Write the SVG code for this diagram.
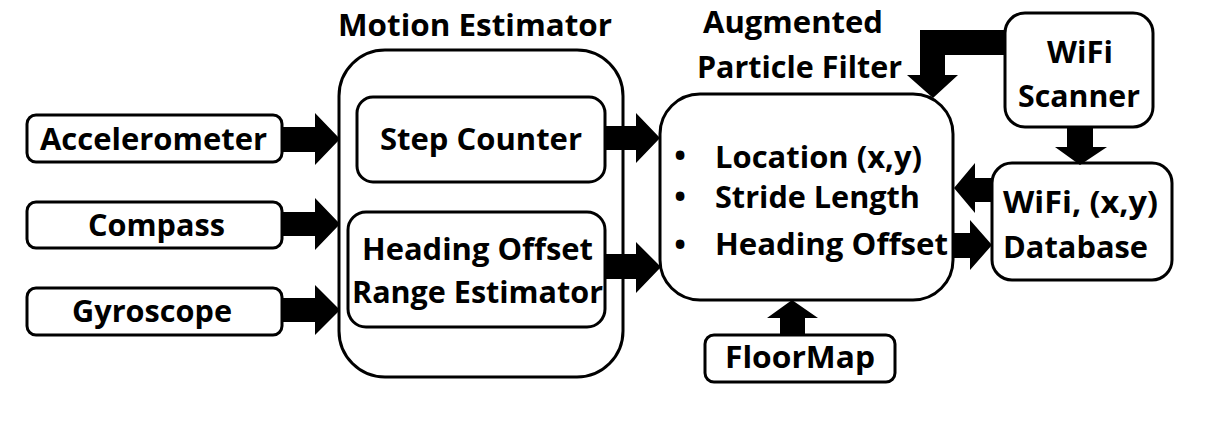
<svg xmlns="http://www.w3.org/2000/svg" width="1205" height="428" viewBox="0 0 1205 428">
<style>
.box{fill:#fff;stroke:#000;stroke-width:3}
.t{font-family:"Open Sans","DejaVu Sans",sans-serif;font-weight:bold;font-size:31px;fill:#000}
.m{text-anchor:middle}
.arr{fill:#000}
</style>
<rect width="1205" height="428" fill="#fff"/>
<g id="accelerometer">
<rect class="box" x="27" y="115" width="255" height="47" rx="9"/>
<text class="t" x="40" y="150" textLength="227" lengthAdjust="spacingAndGlyphs">Accelerometer</text>
</g>
<g id="compass">
<rect class="box" x="27" y="202" width="255" height="46" rx="9"/>
<text class="t" x="88" y="236" textLength="137" lengthAdjust="spacingAndGlyphs">Compass</text>
</g>
<g id="gyroscope">
<rect class="box" x="27" y="288" width="255" height="47" rx="9"/>
<text class="t" x="72" y="322" textLength="160" lengthAdjust="spacingAndGlyphs">Gyroscope</text>
</g>
<g id="motion-estimator">
<text class="t" x="338" y="36" textLength="274" lengthAdjust="spacingAndGlyphs">Motion Estimator</text>
<rect class="box" x="339" y="50" width="284" height="327" rx="46"/>
</g>
<g id="step-counter">
<rect class="box" x="357" y="97" width="248" height="85" rx="16"/>
<text class="t" x="380" y="150" textLength="202" lengthAdjust="spacingAndGlyphs">Step Counter</text>
</g>
<g id="heading-offset-range-estimator">
<rect class="box" x="348" y="212" width="257" height="115" rx="18"/>
<text class="t" x="362" y="260" textLength="231" lengthAdjust="spacingAndGlyphs">Heading Offset</text>
<text class="t" x="352" y="303" textLength="251" lengthAdjust="spacingAndGlyphs">Range Estimator</text>
</g>
<g id="augmented-particle-filter">
<text class="t" x="703" y="33" textLength="180" lengthAdjust="spacingAndGlyphs">Augmented</text>
<text class="t" x="697" y="78" textLength="205" lengthAdjust="spacingAndGlyphs">Particle Filter</text>
<rect class="box" x="660" y="94" width="293" height="206" rx="40"/>
<text class="t m" x="680" y="166">•</text>
<text class="t m" x="680" y="207">•</text>
<text class="t m" x="680" y="255">•</text>
<text class="t" x="715" y="168" textLength="207" lengthAdjust="spacingAndGlyphs">Location (x,y)</text>
<text class="t" x="715" y="208" textLength="205" lengthAdjust="spacingAndGlyphs">Stride Length</text>
<text class="t" x="715" y="255" textLength="233" lengthAdjust="spacingAndGlyphs">Heading Offset</text>
</g>
<g id="wifi-scanner">
<rect class="box" x="1005" y="13" width="148" height="114" rx="20"/>
<text class="t" x="1047" y="63" textLength="66" lengthAdjust="spacingAndGlyphs">WiFi</text>
<text class="t" x="1018" y="107" textLength="122" lengthAdjust="spacingAndGlyphs">Scanner</text>
</g>
<g id="wifi-database">
<rect class="box" x="992" y="163" width="180" height="117" rx="20"/>
<text class="t" x="1003" y="213" textLength="155" lengthAdjust="spacingAndGlyphs">WiFi, (x,y)</text>
<text class="t" x="1003" y="258" textLength="145" lengthAdjust="spacingAndGlyphs">Database</text>
</g>
<g id="floormap">
<rect class="box" x="705" y="335" width="190" height="47" rx="9"/>
<text class="t" x="725" y="368" textLength="150" lengthAdjust="spacingAndGlyphs">FloorMap</text>
</g>
<g id="connectors">
<polygon class="arr" points="282,127 315,127 315,113 340,139 315,165 315,152 282,152"/>
<polygon class="arr" points="282,212 315,212 315,198 340,224 315,250 315,236 282,236"/>
<polygon class="arr" points="282,298 315,298 315,285 340,310 315,335 315,322 282,322"/>
<polygon class="arr" points="605,126 636,126 636,113 660,138 636,163 636,150 605,150"/>
<polygon class="arr" points="605,254 636,254 636,242 661,267 636,293 636,279 605,279"/>
<polygon class="arr" points="1005,30 920,30 920,75 907,75 933,98 958,75 945,75 945,55 1005,55"/>
<polygon class="arr" points="1067,127 1093,127 1093,147 1107,147 1080,165 1055,147 1067,147"/>
<polygon class="arr" points="992,178 975,178 975,163 954,188 975,213 975,202 992,202"/>
<polygon class="arr" points="953,233 970,233 970,220 992,245 970,270 970,258 953,258"/>
<polygon class="arr" points="780,335 780,318 767,318 792,300 818,318 805,318 805,335"/>
</g>
</svg>
